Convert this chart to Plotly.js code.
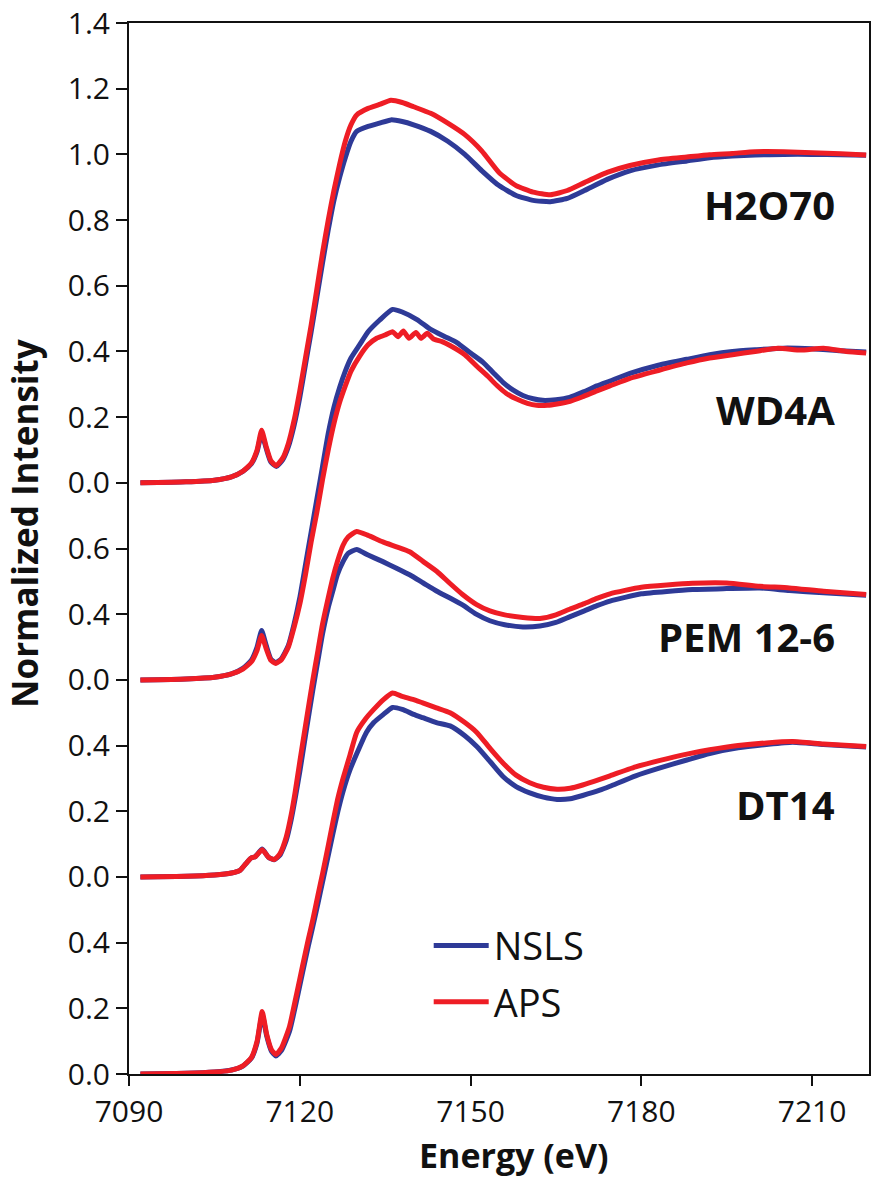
<!DOCTYPE html>
<html>
<head>
<meta charset="utf-8">
<script src="https://cdn.plot.ly/plotly-3.0.1.min.js"></script>
<style>html,body{margin:0;padding:0;background:#fff;}#chart{width:874px;height:1178px;}</style>
</head>
<body>
<div id="chart"></div>
<script>
// ---- data (energy eV, normalized intensity) ----
const samples = ["H2O70", "WD4A", "PEM 12-6", "DT14"];
const offsets = [1.8, 1.2, 0.6, 0.0];
const sources = ["NSLS", "APS"];

const h2o70_NSLS = [[7092,0],[7100,0.003],[7105,0.008],[7108,0.018],[7110,0.035],[7111.5,0.058],[7112.5,0.095],[7113.3,0.15],[7114.1,0.105],[7114.9,0.064],[7115.9,0.05],[7117,0.07],[7118,0.11],[7119,0.175],[7120,0.26],[7121,0.36],[7122,0.46],[7123,0.565],[7124,0.67],[7125,0.77],[7126,0.86],[7127,0.93],[7128,0.99],[7129,1.04],[7130,1.07],[7132,1.085],[7134,1.095],[7136,1.105],[7138,1.1],[7140,1.09],[7143,1.07],[7146,1.04],[7149,1.0],[7152,0.95],[7155,0.905],[7158,0.875],[7161,0.86],[7164,0.856],[7167,0.866],[7170,0.89],[7174,0.924],[7178,0.95],[7183,0.968],[7188,0.98],[7192,0.99],[7196,0.995],[7200,0.998],[7205,1.0],[7210,1.0],[7215,0.999],[7219.5,0.997]];
const h2o70_APS = [[7092,0],[7100,0.003],[7105,0.008],[7108,0.018],[7110,0.035],[7111.5,0.06],[7112.5,0.1],[7113.3,0.16],[7114.1,0.11],[7114.9,0.068],[7115.8,0.052],[7117,0.075],[7118,0.12],[7119,0.19],[7120,0.28],[7121,0.38],[7122,0.48],[7123,0.59],[7124,0.7],[7125,0.8],[7126,0.89],[7127,0.97],[7128,1.04],[7129,1.09],[7130,1.12],[7132,1.14],[7134,1.152],[7136,1.165],[7138,1.158],[7140,1.145],[7143,1.125],[7146,1.095],[7149,1.06],[7152,1.01],[7155,0.945],[7158,0.905],[7161,0.885],[7164,0.877],[7167,0.89],[7170,0.914],[7174,0.945],[7178,0.966],[7183,0.983],[7188,0.992],[7192,0.999],[7196,1.003],[7200,1.008],[7205,1.008],[7210,1.005],[7215,1.002],[7219.5,0.998]];

const wd4a_NSLS = [[7092,0],[7100,0.003],[7105,0.008],[7108,0.018],[7110,0.035],[7111.5,0.06],[7112.5,0.1],[7113.3,0.15],[7114.1,0.105],[7114.9,0.064],[7115.8,0.052],[7116.8,0.065],[7118,0.105],[7119,0.17],[7120,0.25],[7121,0.35],[7122,0.45],[7123,0.55],[7124,0.65],[7125,0.75],[7126,0.83],[7127,0.89],[7128,0.94],[7129,0.98],[7130.5,1.02],[7132,1.06],[7134,1.095],[7136.3,1.128],[7138,1.12],[7140.6,1.097],[7143,1.067],[7145.5,1.045],[7147.6,1.027],[7150,0.995],[7152.2,0.967],[7154,0.935],[7155.7,0.906],[7157.5,0.882],[7159.2,0.866],[7161,0.856],[7162.7,0.851],[7165,0.853],[7167.4,0.86],[7170,0.878],[7172.2,0.895],[7174.5,0.91],[7178,0.933],[7183,0.958],[7188,0.976],[7192,0.99],[7196,1.0],[7200,1.005],[7205,1.01],[7210,1.008],[7215,1.002],[7219.5,0.998]];
const wd4a_APS = [[7092,0],[7100,0.003],[7105,0.008],[7108,0.018],[7110,0.033],[7111.5,0.055],[7112.5,0.09],[7113.3,0.135],[7114.1,0.095],[7114.9,0.06],[7115.8,0.05],[7116.8,0.062],[7118,0.1],[7119,0.16],[7120,0.23],[7121,0.32],[7122,0.42],[7123,0.51],[7124,0.61],[7125,0.7],[7126,0.78],[7127,0.845],[7128,0.895],[7129,0.94],[7130.5,0.985],[7132,1.02],[7133.5,1.04],[7135,1.05],[7136.3,1.06],[7137.3,1.045],[7138.2,1.062],[7139.2,1.04],[7140.4,1.058],[7141.3,1.04],[7142.4,1.055],[7143.5,1.038],[7145,1.03],[7146.4,1.018],[7149,0.99],[7151.1,0.955],[7153,0.925],[7154.6,0.897],[7156.3,0.872],[7158.1,0.855],[7160,0.842],[7161.6,0.836],[7163.5,0.836],[7165.2,0.84],[7167.5,0.848],[7169.7,0.862],[7172.2,0.88],[7174.5,0.895],[7178,0.918],[7183,0.942],[7188,0.965],[7192,0.98],[7196,0.99],[7200,1.0],[7204,1.01],[7208,1.004],[7212,1.01],[7216,1.0],[7219.5,0.995]];

const pem_NSLS = [[7092,0],[7100,0.002],[7105,0.006],[7108,0.012],[7109.5,0.02],[7110.5,0.04],[7111.4,0.057],[7112.2,0.062],[7113.4,0.085],[7114.5,0.06],[7115.5,0.052],[7116.5,0.066],[7117.6,0.11],[7118.5,0.175],[7119.2,0.24],[7120,0.32],[7121,0.43],[7122.3,0.57],[7123.2,0.66],[7124,0.74],[7125,0.82],[7125.8,0.87],[7126.6,0.92],[7127.6,0.96],[7128.5,0.985],[7130,0.997],[7132,0.98],[7134.6,0.96],[7137,0.94],[7139.3,0.92],[7141.7,0.895],[7144.1,0.87],[7146.3,0.85],[7148.6,0.828],[7151,0.8],[7153.4,0.78],[7156,0.768],[7159.2,0.761],[7162.2,0.764],[7165,0.775],[7167.4,0.792],[7170,0.81],[7172.2,0.826],[7174.5,0.84],[7180,0.862],[7189,0.875],[7195,0.878],[7200.8,0.88],[7206,0.872],[7212,0.865],[7219.5,0.858]];
const pem_APS = [[7092,0],[7100,0.002],[7105,0.006],[7108,0.012],[7109.5,0.02],[7110.5,0.04],[7111.4,0.057],[7112.2,0.062],[7113.4,0.083],[7114.5,0.06],[7115.5,0.053],[7116.5,0.07],[7117.6,0.12],[7118.5,0.19],[7119.2,0.26],[7120,0.35],[7121,0.46],[7122.3,0.6],[7123.2,0.69],[7124,0.77],[7125,0.85],[7125.8,0.91],[7126.6,0.96],[7127.6,1.01],[7128.5,1.035],[7130,1.052],[7132,1.04],[7134.6,1.02],[7137,1.005],[7139.3,0.99],[7141.7,0.96],[7144.1,0.93],[7146.3,0.895],[7148.6,0.86],[7151,0.83],[7153.4,0.81],[7156,0.798],[7159.2,0.79],[7162.2,0.787],[7165,0.798],[7167.4,0.815],[7170,0.832],[7172.2,0.848],[7174.5,0.862],[7180,0.882],[7189,0.894],[7195,0.895],[7200.8,0.885],[7206,0.88],[7212,0.87],[7219.5,0.86]];

const dt14_NSLS = [[7092,0],[7100,0.002],[7105,0.006],[7108,0.012],[7110,0.024],[7111.5,0.048],[7112.5,0.095],[7113.4,0.18],[7114.2,0.115],[7115,0.07],[7115.8,0.055],[7116.8,0.072],[7118.2,0.13],[7119.4,0.22],[7120.5,0.31],[7121.5,0.39],[7122.3,0.45],[7123.2,0.52],[7124,0.585],[7125,0.665],[7125.8,0.73],[7126.7,0.8],[7127.6,0.86],[7128.8,0.925],[7130,0.975],[7131.7,1.04],[7133,1.07],[7134.7,1.095],[7136.3,1.116],[7138,1.11],[7140,1.095],[7141.6,1.085],[7144,1.07],[7146.4,1.06],[7149,1.03],[7151.1,0.997],[7153.5,0.95],[7155.7,0.906],[7158,0.875],[7160.4,0.856],[7162.8,0.843],[7165.2,0.836],[7167.5,0.838],[7169.7,0.848],[7172.7,0.864],[7174.5,0.876],[7179,0.908],[7183.3,0.932],[7188,0.956],[7192,0.976],[7197,0.993],[7202,1.003],[7206.6,1.01],[7212,1.003],[7219.5,0.996]];
const dt14_APS = [[7092,0],[7100,0.002],[7105,0.006],[7108,0.012],[7110,0.025],[7111.5,0.05],[7112.5,0.1],[7113.4,0.19],[7114.2,0.12],[7115,0.075],[7115.8,0.059],[7116.8,0.08],[7118.2,0.145],[7119.4,0.24],[7120.5,0.33],[7121.5,0.41],[7122.3,0.47],[7123.2,0.545],[7124,0.61],[7125,0.695],[7125.8,0.765],[7126.7,0.84],[7127.6,0.9],[7128.8,0.97],[7130,1.04],[7131.5,1.08],[7133,1.11],[7134.7,1.14],[7136.3,1.16],[7138,1.15],[7140,1.14],[7141.6,1.13],[7144,1.115],[7146.4,1.1],[7149,1.07],[7151.1,1.04],[7153.5,0.99],[7155.7,0.947],[7158,0.91],[7160.4,0.887],[7162.8,0.873],[7165.2,0.867],[7167.5,0.87],[7169.7,0.88],[7172.7,0.897],[7174.5,0.908],[7179,0.935],[7183.3,0.955],[7188,0.974],[7192,0.987],[7197,1.0],[7202,1.008],[7206.6,1.012],[7212,1.005],[7219.5,0.997]];

// stacked tick positions and their printed labels
const yTickVals = [0,0.2,0.4,0.6,0.8,1.0,1.2,1.4,1.6,1.8,2.0,2.2,2.4,2.6,2.8,3.0,3.2];
const yTickText = ["0.0","0.2","0.4","0.0","0.2","0.4","0.0","0.4","0.6","0.0","0.2","0.4","0.6","0.8","1.0","1.2","1.4"];
const xTickVals = [7090,7120,7150,7180,7210];

const seriesBySample = [
  [h2o70_NSLS, h2o70_APS],
  [wd4a_NSLS, wd4a_APS],
  [pem_NSLS, pem_APS],
  [dt14_NSLS, dt14_APS]
];
const colors = {NSLS: "#2E3A97", APS: "#EE1D25"};

const traces = [];
seriesBySample.forEach((pair, i) => {
  pair.forEach((pts, j) => {
    const src = sources[j];
    traces.push({
      type: "scatter", mode: "lines",
      x: pts.map(p => p[0]),
      y: pts.map(p => p[1] + offsets[i]),
      name: src,
      legendgroup: src,
      showlegend: i === 0,
      line: {color: colors[src], width: 5, shape: "spline", smoothing: 0.5}
    });
  });
});

const fontFam = "'Open Sans', 'Noto Sans', sans-serif";
const labelY = [2.646, 2.022, 1.331, 0.82];
const annotations = samples.map((s, i) => ({
  text: "<b>" + s + "</b>", xref: "paper", yref: "y", x: 0.957, y: labelY[i],
  xanchor: "right", yanchor: "middle", showarrow: false,
  font: {family: fontFam, size: 40, color: "#111"}
}));
annotations.push({
  text: "<b>Normalized Intensity</b>", xref: "paper", yref: "paper",
  x: -0.141, y: 0.524, textangle: -90, showarrow: false,
  xanchor: "center", yanchor: "middle",
  font: {family: fontFam, size: 35, color: "#111"}
});
annotations.push({
  text: "<b>Energy (eV)</b>", xref: "paper", yref: "paper",
  x: 0.52, y: -0.077, showarrow: false, xanchor: "center", yanchor: "middle",
  font: {family: fontFam, size: 34, color: "#111"}
});

const layout = {
  width: 874, height: 1178,
  margin: {l: 129, r: 5, t: 23, b: 104},
  paper_bgcolor: "#fff", plot_bgcolor: "#fff",
  font: {family: fontFam, color: "#111"},
  showlegend: true,
  legend: {
    x: 0.405, y: 0.152, xanchor: "left", yanchor: "top",
    font: {family: fontFam, size: 38, color: "#111"},
    bgcolor: "rgba(0,0,0,0)", tracegroupgap: 4, itemwidth: 55
  },
  xaxis: {
    range: [7090, 7220], tickvals: xTickVals, ticktext: xTickVals.map(String),
    showgrid: false, zeroline: false,
    showline: true, linecolor: "#111", linewidth: 2, mirror: true,
    ticks: "outside", ticklen: 10, tickwidth: 2, tickcolor: "#111",
    tickfont: {family: fontFam, size: 30, color: "#111"}
  },
  yaxis: {
    range: [0, 3.2], tickvals: yTickVals, ticktext: yTickText,
    showgrid: false, zeroline: false,
    showline: true, linecolor: "#111", linewidth: 2, mirror: true,
    ticks: "outside", ticklen: 11, tickwidth: 2, tickcolor: "#111",
    tickfont: {family: fontFam, size: 30, color: "#111"}
  },
  annotations: annotations
};

Plotly.newPlot("chart", traces, layout, {displayModeBar: false, staticPlot: true});
</script>
</body>
</html>
